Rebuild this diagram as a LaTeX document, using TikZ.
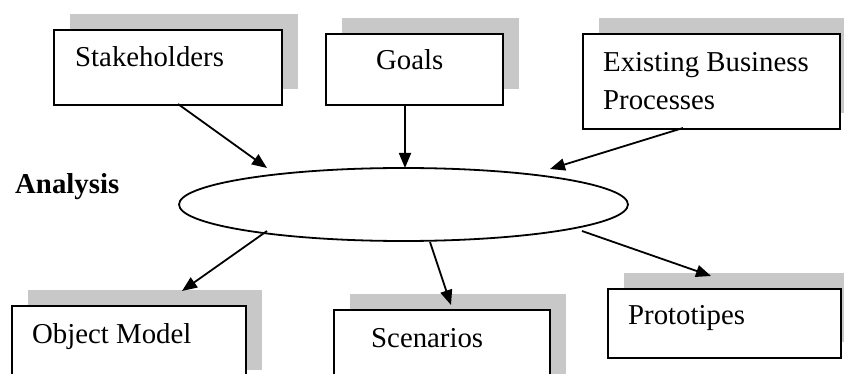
\documentclass[tikz,border=0pt]{standalone}
\usepackage{fontspec}
\setmainfont{Liberation Serif}
\usetikzlibrary{arrows.meta,shapes.geometric}
\definecolor{shadowgray}{RGB}{200,200,200}
\tikzset{
  box/.style={draw, line width=1.8pt, fill=white, rectangle, inner sep=0pt, anchor=north west,
    preaction={fill=shadowgray, transform canvas={xshift=16pt, yshift=16pt}}},
  lbl/.style={inner sep=0pt, anchor=base west, font=\fontsize{28.8}{36}\selectfont},
  conn/.style={line width=1.8pt, -{Triangle[length=15pt,width=12pt]}},
  oval/.style={draw, line width=1.8pt, ellipse, inner sep=0pt, minimum width=449pt, minimum height=73pt}
}
\begin{document}
\begin{tikzpicture}[x=1pt,y=-1pt]
\clip (0,0) rectangle (844,374);
\useasboundingbox (0,0) rectangle (844,374);
\fill[white] (0,0) rectangle (844,374);
% boxes
\node[box, minimum width=228pt, minimum height=75pt] (stake) at (53,29) {};
\node[box, minimum width=177pt, minimum height=71pt] (goals) at (325,33) {};
\node[box, minimum width=257pt, minimum height=95pt] (exist) at (582,33) {};
\node[box, minimum width=234pt, minimum height=80pt] (objm) at (11,305) {};
\node[box, minimum width=216pt, minimum height=80pt] (scen) at (333,309) {};
\node[box, minimum width=233pt, minimum height=69pt] (proto) at (607,288) {};
% texts
\node[lbl] (tstake) at (75,67) {Stakeholders};
\node[lbl] (tgoals) at (376,70) {Goals};
\node[lbl] (texist1) at (603,72) {Existing Business};
\node[lbl] (texist2) at (603,110) {Processes};
\node[lbl] (tobjm) at (32,343) {Object Model};
\node[lbl] (tscen) at (371,347) {Scenarios};
\node[lbl] (tproto) at (628,325) {Prototipes};
\node[lbl, font=\fontsize{28.8}{36}\selectfont\bfseries] (analysis) at (15,194) {Analysis};
% ellipse
\node[oval] (ell) at (403.5,204.5) {};
% connector end points
\coordinate (s1) at (178,104);
\coordinate (e1) at (267,168);
\coordinate (s2) at (405,104);
\coordinate (e2) at (405,168);
\coordinate (s3) at (683,128);
\coordinate (e3) at (550,169);
\coordinate (s4) at (267,231);
\coordinate (e4) at (182,291);
\coordinate (s5) at (430,242);
\coordinate (e5) at (451,305);
\coordinate (s6) at (582,231);
\coordinate (e6) at (711,276);
\draw[conn] (s1) -- (e1);
\draw[conn] (s2) -- (e2);
\draw[conn] (s3) -- (e3);
\draw[conn] (s4) -- (e4);
\draw[conn] (s5) -- (e5);
\draw[conn] (s6) -- (e6);
\end{tikzpicture}
\end{document}
